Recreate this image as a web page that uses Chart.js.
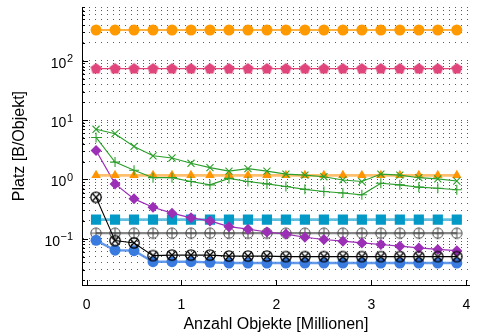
<!DOCTYPE html>
<html>
<head>
<meta charset="utf-8">
<script src="https://cdn.jsdelivr.net/npm/chart.js@4/dist/chart.umd.min.js"></script>
<style>
  html, body { margin: 0; padding: 0; background: #fff; }
  #wrap { width: 477px; height: 333px; }
</style>
</head>
<body>
<div id="wrap"><canvas id="c" width="477" height="333"></canvas></div>
<script>
// Anzahl Objekte in Millionen
const objekteMio = [0.1, 0.3, 0.5, 0.7, 0.9, 1.1, 1.3, 1.5, 1.7, 1.9, 2.1, 2.3, 2.5, 2.7, 2.9, 3.1, 3.3, 3.5, 3.7, 3.9];

// Achsenbeschriftung
const xTickWerte = [0, 1, 2, 3, 4];
const yExponenten = [-1, 0, 1, 2];

// Platzbedarf in Byte pro Objekt
const orangeKreis   = [330, 330, 330, 330, 330, 330, 330, 330, 330, 330, 330, 330, 330, 330, 330, 330, 330, 330, 330, 330];
const pinkFuenfeck  = [74, 74, 74, 74, 74, 74, 74, 74, 74, 74, 74, 74, 74, 74, 74, 74, 74, 74, 74, 74];
const gruenKreuzX   = [7.0, 5.9, 3.6, 2.5, 2.3, 1.87, 1.58, 1.38, 1.52, 1.38, 1.23, 1.18, 1.11, 0.98, 0.92, 1.23, 1.18, 1.07, 1.02, 0.94];
const gruenPlus     = [5.1, 1.96, 1.43, 1.07, 1.07, 0.92, 0.81, 1.04, 0.92, 0.84, 0.76, 0.68, 0.625, 0.59, 0.55, 0.86, 0.81, 0.74, 0.71, 0.67];
const orangeDreieck = [1.17, 1.17, 1.17, 1.17, 1.17, 1.17, 1.17, 1.17, 1.17, 1.17, 1.17, 1.17, 1.17, 1.17, 1.17, 1.17, 1.17, 1.17, 1.17, 1.17];
const lilaRaute     = [3.07, 0.84, 0.47, 0.34, 0.27, 0.225, 0.20, 0.16, 0.145, 0.13, 0.12, 0.106, 0.097, 0.091, 0.085, 0.08, 0.075, 0.07, 0.066, 0.063];
const tuerkisQuadrat= [0.21, 0.21, 0.21, 0.21, 0.21, 0.21, 0.21, 0.21, 0.21, 0.21, 0.21, 0.21, 0.21, 0.21, 0.21, 0.21, 0.21, 0.21, 0.21, 0.21];
const grauKreisPlus = [0.124, 0.124, 0.124, 0.124, 0.124, 0.124, 0.124, 0.124, 0.124, 0.124, 0.124, 0.124, 0.124, 0.124, 0.124, 0.124, 0.124, 0.124, 0.124, 0.124];
const schwarzKreisX = [0.50, 0.093, 0.085, 0.052, 0.053, 0.053, 0.053, 0.051, 0.051, 0.051, 0.05, 0.05, 0.05, 0.05, 0.05, 0.05, 0.05, 0.05, 0.05, 0.05];
const blauKreis     = [0.094, 0.064, 0.063, 0.041, 0.041, 0.041, 0.04, 0.039, 0.039, 0.039, 0.039, 0.039, 0.039, 0.039, 0.039, 0.039, 0.039, 0.039, 0.039, 0.039];

const SCHRIFT = '"Liberation Sans", Arial, Helvetica, sans-serif';

// eigene Punktsymbole als kleine Canvas-Bilder
function marke(r, zeichnen) {
  const c = document.createElement('canvas');
  const s = Math.ceil(2 * r + 3);
  c.width = s; c.height = s;
  const g = c.getContext('2d');
  g.translate(s / 2, s / 2);
  zeichnen(g, r);
  return c;
}
const fuenfeck = marke(5.8, (g, r) => {
  g.beginPath();
  for (let k = 0; k < 5; k++) {
    const w = -Math.PI / 2 + k * 2 * Math.PI / 5;
    const px = r * Math.cos(w), py = r * Math.sin(w) + 0.4;
    k ? g.lineTo(px, py) : g.moveTo(px, py);
  }
  g.closePath();
  g.fillStyle = '#e0457b';
  g.fill();
});
const kreisPlus = marke(5.2, (g, r) => {
  g.strokeStyle = '#4a4a4a'; g.lineWidth = 1;
  g.beginPath(); g.arc(0, 0, r, 0, 2 * Math.PI); g.stroke();
  g.beginPath(); g.moveTo(-r, 0); g.lineTo(r, 0); g.moveTo(0, -r); g.lineTo(0, r); g.stroke();
});
const kreisX = marke(5.2, (g, r) => {
  g.strokeStyle = '#000'; g.lineWidth = 1.3;
  g.beginPath(); g.arc(0, 0, r, 0, 2 * Math.PI); g.stroke();
  const d = r * Math.SQRT1_2;
  g.beginPath(); g.moveTo(-d, -d); g.lineTo(d, d); g.moveTo(-d, d); g.lineTo(d, -d); g.stroke();
});

function punkte(werte) {
  return objekteMio.map((x, i) => ({ x: x, y: werte[i] }));
}

function reihe(werte, linie, breite, stil, radius, fuellung, rand, randBreite) {
  return {
    data: punkte(werte),
    borderColor: linie,
    borderWidth: breite,
    pointStyle: stil,
    pointRadius: radius,
    pointBackgroundColor: fuellung,
    pointBorderColor: rand,
    pointBorderWidth: randBreite,
    tension: 0,
    fill: false
  };
}

// Reihenfolge: vordere Einträge liegen oben
const datensaetze = [
  reihe(orangeKreis,   '#ff9900', 1.5, 'circle',   5.5, '#ff9900', '#ff9900', 0),
  reihe(pinkFuenfeck,  '#e0457b', 1.2, fuenfeck,   5.8, '#e0457b', '#e0457b', 0),
  reihe(gruenKreuzX,   '#2ca02c', 1.1, 'crossRot', 5,   '#2ca02c', '#2ca02c', 1.1),
  reihe(gruenPlus,     '#2ca02c', 1.1, 'cross',    5,   '#2ca02c', '#2ca02c', 1.1),
  reihe(orangeDreieck, 'rgba(255,170,60,0.75)', 2.6, 'triangle', 5.5, '#ff9500', '#ff9500', 0),
  reihe(schwarzKreisX, '#000000', 1.1, kreisX,     5.2, 'transparent', '#000', 0),
  reihe(blauKreis,     'rgba(70,135,230,0.85)', 2.4, 'circle', 5.5, '#3a7be0', '#3a7be0', 0),
  reihe(lilaRaute,     '#9b2fb5', 1.2, 'rectRot',  5.5, '#9b2fb5', '#9b2fb5', 0),
  reihe(grauKreisPlus, 'rgba(120,120,120,0.9)', 2.2, kreisPlus, 5.2, 'transparent', '#4a4a4a', 0),
  reihe(tuerkisQuadrat,'rgba(80,185,220,0.9)', 2.6, 'rect', 7.2, '#0399c6', '#0399c6', 0)
];

// nach innen zeigende Teilstriche und hochgestellte Zehnerpotenzen
const achsenZeichner = {
  id: 'achsenZeichner',
  afterDraw(chart) {
    const { ctx, chartArea: a, scales: { x, y } } = chart;
    ctx.save();
    ctx.strokeStyle = '#000';
    ctx.lineWidth = 1;
    ctx.beginPath();
    y.ticks.forEach(t => {
      const lg = Math.log10(t.value);
      const haupt = Math.abs(lg - Math.round(lg)) < 1e-9;
      const py = Math.round(y.getPixelForValue(t.value)) + 0.5;
      ctx.moveTo(a.left, py);
      ctx.lineTo(a.left + (haupt ? 6 : 3), py);
    });
    xTickWerte.forEach(v => {
      const px = Math.round(x.getPixelForValue(v)) + 0.5;
      ctx.moveTo(px, a.bottom);
      ctx.lineTo(px, a.bottom - 5);
    });
    ctx.stroke();

    ctx.fillStyle = '#000';
    ctx.textBaseline = 'middle';
    const rechts = 73;
    yExponenten.forEach(e => {
      const py = y.getPixelForValue(Math.pow(10, e)) + 3;
      const hoch = e < 0 ? '\u2212' + (-e) : String(e);
      ctx.font = '11px ' + SCHRIFT;
      const bw = ctx.measureText(hoch).width;
      ctx.textAlign = 'right';
      ctx.fillText(hoch, rechts, py - 4.5);
      ctx.font = '14px ' + SCHRIFT;
      ctx.fillText('10', rechts - bw - 0.5, py);
    });
    ctx.restore();
  }
};

new Chart(document.getElementById('c'), {
  type: 'line',
  data: { datasets: datensaetze },
  options: {
    responsive: false,
    animation: false,
    events: [],
    plugins: { legend: { display: false }, tooltip: { enabled: false } },
    layout: { padding: { top: 3, right: 0, left: 0, bottom: 0 } },
    scales: {
      x: {
        type: 'linear',
        min: -0.048,
        max: 4.037,
        afterBuildTicks: s => { s.ticks = xTickWerte.map(v => ({ value: v })); },
        grid: { display: false },
        border: { display: true, color: '#000', width: 1 },
        ticks: { color: '#000', font: { family: SCHRIFT, size: 14 }, padding: 4, maxRotation: 0, autoSkip: false },
        title: { display: true, text: 'Anzahl Objekte [Millionen]', color: '#000', font: { family: SCHRIFT, size: 16, lineHeight: 0.8 }, padding: 2 },
        afterFit: s => { s.height = 48; }
      },
      y: {
        type: 'logarithmic',
        min: 0.0166,
        max: 800,
        afterBuildTicks: s => {
          const t = [];
          for (let k = -2; k <= 2; k++) {
            for (let m = 1; m <= 9; m++) {
              const v = m * Math.pow(10, k);
              if (v >= s.min && v <= s.max) t.push({ value: v });
            }
          }
          s.ticks = t;
        },
        grid: { color: 'rgba(0,0,0,0.65)', lineWidth: 1, drawTicks: false },
        border: { display: true, color: '#000', width: 1, dash: [1, 5] },
        ticks: { display: false },
        title: { display: true, text: 'Platz [B/Objekt]', color: '#000', font: { family: SCHRIFT, size: 16 }, padding: 10 },
        afterFit: s => { s.width = 82; }
      }
    }
  },
  plugins: [achsenZeichner]
});
</script>
</body>
</html>
